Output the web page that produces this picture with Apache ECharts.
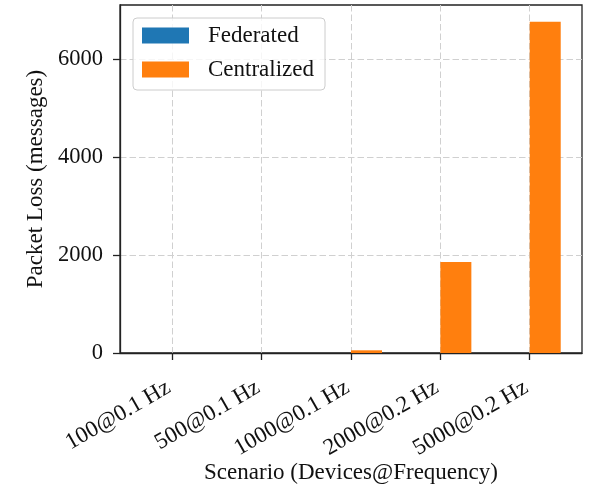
<!DOCTYPE html>
<html><head><meta charset="utf-8">
<script src="https://cdn.jsdelivr.net/npm/echarts@6/dist/echarts.min.js"></script>
<style>html,body{margin:0;padding:0;background:#fff}#c{width:590px;height:486px}</style>
</head><body><div id="c"></div>
<script>
const categories = ['100@0.1 Hz','500@0.1 Hz','1000@0.1 Hz','2000@0.2 Hz','5000@0.2 Hz'];
const federated = [0, 0, 0, 0, 0];
const centralized = [0, 0, 55, 1857, 6760];
const yTicks = [0, 2000, 4000, 6000];
const xTicks = categories.map((_, i) => i);

const font = 'Liberation Serif, Times New Roman, serif';
const chart = echarts.init(document.getElementById('c'));
chart.setOption({
  animation: false,
  grid: {left: 120, right: 8, top: 5, bottom: 133, outerBoundsMode: 'none', containLabel: false,
    show: true, borderColor: '#222', borderWidth: 1.3, backgroundColor: 'transparent'},
  legend: {
    orient: 'vertical', left: 133, top: 18,
    padding: [6, 11, 9, 9], itemGap: 11, itemWidth: 47, itemHeight: 16,
    borderColor: '#cccccc', borderWidth: 1, borderRadius: 4, backgroundColor: 'rgba(255,255,255,0.8)',
    textStyle: {fontFamily: font, fontSize: 23, color: '#111', padding: [0, 0, 0, 14]},
    data: [{name: 'Federated', icon: 'rect'}, {name: 'Centralized', icon: 'rect'}]
  },
  xAxis: {
    type: 'value', min: -0.585, max: 4.585,
    name: 'Scenario (Devices@Frequency)', nameLocation: 'middle', nameGap: 108, nameMoveOverlap: false,
    nameTextStyle: {fontFamily: font, fontSize: 23, color: '#111', verticalAlign: 'top'},
    axisLine: {show: true, onZero: false, lineStyle: {color: '#222', width: 1.3}},
    axisTick: {show: true, length: 7, customValues: xTicks, lineStyle: {color: '#222', width: 1.3}},
    axisLabel: {customValues: xTicks, rotate: 30, margin: 31, padding: [0, 4, 0, 0], fontFamily: font, fontSize: 23, color: '#111',
      formatter: v => categories[Math.round(v)] || ''},
    splitLine: {show: true, lineStyle: {color: '#d0d0d0', type: [6.5, 3], width: 1}}
  },
  yAxis: {
    type: 'value', min: 0, max: 7100, interval: 2000,
    name: 'Packet Loss (messages)', nameLocation: 'middle', nameGap: 73, nameMoveOverlap: false,
    nameTextStyle: {fontFamily: font, fontSize: 23, color: '#111'},
    axisLine: {show: true, onZero: false, lineStyle: {color: '#222', width: 1.3}},
    axisTick: {show: true, length: 7, customValues: yTicks, lineStyle: {color: '#222', width: 1.3}},
    axisLabel: {customValues: yTicks, margin: 17, fontFamily: font, fontSize: 22.5, color: '#111',
      formatter: v => String(v)},
    splitLine: {show: true, lineStyle: {color: '#d0d0d0', type: [6.5, 3], width: 1}}
  },
  series: [
    {name: 'Federated', type: 'bar', barWidth: 31, barGap: '0%', itemStyle: {color: '#1f77b4'},
     data: federated.map((v, i) => [i, v])},
    {name: 'Centralized', type: 'bar', barWidth: 31, barGap: '0%', itemStyle: {color: '#ff7f0e'},
     data: centralized.map((v, i) => [i, v])}
  ]
});
</script></body></html>
